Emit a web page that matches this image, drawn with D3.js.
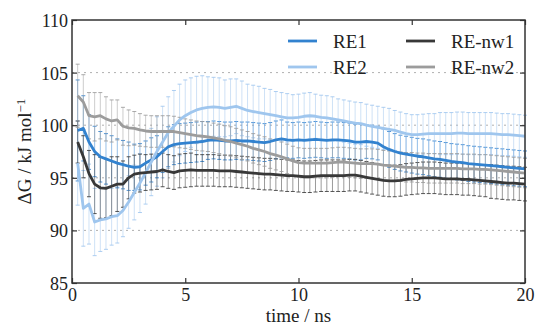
<!DOCTYPE html>
<html>
<head>
<meta charset="utf-8">
<script src="https://cdn.jsdelivr.net/npm/d3@7"></script>
<style>
  body { margin: 0; background: #fff; }
</style>
</head>
<body>
<div id="chart"></div>
<script>
// time axis (ns), one point every 0.25 ns
const times = [
  0.25, 0.5, 0.75, 1, 1.25, 1.5, 1.75, 2, 2.25, 2.5,
  2.75, 3, 3.25, 3.5, 3.75, 4, 4.25, 4.5, 4.75, 5,
  5.25, 5.5, 5.75, 6, 6.25, 6.5, 6.75, 7, 7.25, 7.5,
  7.75, 8, 8.25, 8.5, 8.75, 9, 9.25, 9.5, 9.75, 10,
  10.25, 10.5, 10.75, 11, 11.25, 11.5, 11.75, 12, 12.25, 12.5,
  12.75, 13, 13.25, 13.5, 13.75, 14, 14.25, 14.5, 14.75, 15,
  15.25, 15.5, 15.75, 16, 16.25, 16.5, 16.75, 17, 17.25, 17.5,
  17.75, 18, 18.25, 18.5, 18.75, 19, 19.25, 19.5, 19.75, 20
];

const re1 = [
  99.5, 99.7, 98.4, 97.5, 97.0, 96.8, 96.6, 96.4, 96.25, 96.1,
  96.0, 96.05, 96.4, 96.7, 97.0, 97.5, 97.95, 98.15, 98.25, 98.3,
  98.35, 98.4, 98.45, 98.55, 98.6, 98.55, 98.5, 98.5, 98.55, 98.5,
  98.5, 98.45, 98.4, 98.35, 98.45, 98.6, 98.7, 98.6, 98.55, 98.6,
  98.55, 98.6, 98.65, 98.6, 98.55, 98.6, 98.6, 98.55, 98.5, 98.4,
  98.4, 98.45, 98.4, 98.3, 97.95, 97.7, 97.5, 97.35, 97.25, 97.15,
  97.05, 97.0, 96.9, 96.8, 96.75, 96.65, 96.55, 96.5, 96.45, 96.35,
  96.3, 96.25, 96.2, 96.15, 96.1, 96.05, 96.0, 95.95, 95.9, 95.85
];
const re1Err = [
  4.8, 3.1, 2.6, 2.4, 2.4, 2.4, 2.4, 2.3, 2.3, 2.3,
  2.2, 2.2, 2.1, 2.1, 2.0, 2.0, 1.9, 1.9, 1.9, 1.9,
  1.9, 1.9, 1.9, 1.8, 1.8, 1.8, 1.8, 1.8, 1.8, 1.8,
  1.8, 1.8, 1.8, 1.8, 1.8, 1.8, 1.8, 1.7, 1.7, 1.7,
  1.7, 1.7, 1.7, 1.7, 1.7, 1.7, 1.7, 1.7, 1.7, 1.7,
  1.7, 1.6, 1.6, 1.6, 1.7, 1.7, 1.7, 1.7, 1.7, 1.7,
  1.7, 1.7, 1.7, 1.7, 1.7, 1.7, 1.7, 1.7, 1.7, 1.7,
  1.7, 1.7, 1.7, 1.7, 1.7, 1.7, 1.7, 1.7, 1.7, 1.7
];

const re2 = [
  96.4, 92.1, 92.5, 90.8, 91.0, 91.1, 91.3, 91.4, 91.9, 92.7,
  93.6, 94.5, 95.5, 96.5, 97.5, 98.4, 99.3, 99.9, 100.5, 100.9,
  101.2, 101.45, 101.6, 101.7, 101.75, 101.7, 101.6, 101.7, 101.8, 101.6,
  101.4, 101.3, 101.2, 101.1, 101.0, 100.9, 100.8, 100.7, 100.7, 100.75,
  100.85, 100.9, 100.85, 100.75, 100.7, 100.6, 100.5, 100.4, 100.3, 100.2,
  100.15, 100.0, 99.9, 99.8, 99.7, 99.6, 99.5, 99.35, 99.2, 99.1,
  99.1, 99.15, 99.2, 99.2, 99.2, 99.2, 99.2, 99.25, 99.25, 99.2,
  99.2, 99.2, 99.2, 99.2, 99.15, 99.1, 99.1, 99.05, 99.0, 98.95
];
const re2Err = [
  4.0, 3.6, 3.8, 3.2, 3.0, 2.9, 2.7, 2.6, 2.5, 2.5,
  2.6, 2.8, 3.0, 3.2, 3.3, 3.4, 3.4, 3.4, 3.4, 3.4,
  3.3, 3.2, 3.1, 2.9, 2.8, 2.8, 2.7, 2.7, 2.6, 2.6,
  2.5, 2.5, 2.5, 2.4, 2.4, 2.3, 2.3, 2.3, 2.2, 2.2,
  2.2, 2.2, 2.1, 2.1, 2.1, 2.1, 2.0, 2.0, 2.0, 2.0,
  2.0, 2.0, 2.0, 2.0, 2.0, 2.0, 1.9, 1.9, 1.9, 1.9,
  1.9, 1.9, 1.9, 1.9, 2.0, 2.0, 2.0, 2.0, 2.0, 2.0,
  2.0, 2.0, 2.0, 2.0, 2.0, 2.0, 2.0, 2.0, 2.0, 2.0
];

const nw1 = [
  98.4, 97.0, 95.4, 94.4, 94.05, 94.0, 94.2, 94.4, 94.4, 95.0,
  95.35, 95.45, 95.5, 95.55, 95.6, 95.75, 95.6, 95.5, 95.65, 95.7,
  95.75, 95.7, 95.7, 95.7, 95.7, 95.65, 95.65, 95.65, 95.6, 95.55,
  95.5, 95.45, 95.4, 95.35, 95.35, 95.3, 95.25, 95.2, 95.2, 95.15,
  95.1, 95.1, 95.15, 95.2, 95.2, 95.2, 95.2, 95.2, 95.25, 95.25,
  95.15, 95.05, 94.95, 94.85, 94.75, 94.7, 94.7, 94.75, 94.85, 94.9,
  94.95, 95.0, 95.0, 95.0, 94.95, 94.9, 94.9, 94.9, 94.85, 94.85,
  94.8, 94.75, 94.7, 94.65, 94.6, 94.55, 94.5, 94.5, 94.45, 94.4
];
const nw1Err = [
  2.0, 2.0, 2.2, 2.8, 2.9, 2.8, 2.8, 2.6, 2.2, 2.0,
  1.8, 1.8, 1.7, 1.7, 1.7, 1.6, 1.6, 1.6, 1.6, 1.6,
  1.6, 1.5, 1.5, 1.5, 1.5, 1.5, 1.5, 1.5, 1.5, 1.5,
  1.5, 1.5, 1.5, 1.5, 1.5, 1.5, 1.5, 1.5, 1.5, 1.5,
  1.5, 1.5, 1.5, 1.5, 1.5, 1.5, 1.5, 1.5, 1.5, 1.5,
  1.5, 1.5, 1.5, 1.5, 1.5, 1.5, 1.5, 1.5, 1.5, 1.5,
  1.5, 1.5, 1.5, 1.5, 1.5, 1.5, 1.5, 1.5, 1.5, 1.5,
  1.5, 1.5, 1.5, 1.6, 1.6, 1.6, 1.6, 1.6, 1.6, 1.6
];

const nw2 = [
  102.8, 102.2, 100.9, 100.8, 100.9, 100.6, 100.4, 100.5, 99.9, 99.75,
  99.7, 99.55, 99.45, 99.4, 99.4, 99.4, 99.4, 99.4, 99.3, 99.2,
  99.1, 99.0, 98.95, 98.9, 98.8, 98.7, 98.55, 98.45, 98.3, 98.15,
  98.0, 97.8, 97.65, 97.5, 97.3, 97.15, 97.0, 96.8, 96.6, 96.45,
  96.4, 96.4, 96.4, 96.4, 96.4, 96.45, 96.5, 96.5, 96.45, 96.4,
  96.35, 96.35, 96.35, 96.3, 96.2, 96.15, 96.1, 96.05, 96.0, 96.0,
  95.95, 95.95, 95.9, 95.9, 95.9, 95.9, 95.9, 95.9, 95.85, 95.85,
  95.85, 95.8, 95.8, 95.75, 95.7, 95.65, 95.6, 95.55, 95.5, 95.45
];
const nw2Err = [
  3.0, 2.6, 2.2, 2.3, 2.2, 2.1, 2.0, 1.9, 1.8, 1.7,
  1.6, 1.55, 1.5, 1.5, 1.5, 1.5, 1.5, 1.45, 1.45, 1.4,
  1.4, 1.4, 1.4, 1.4, 1.4, 1.4, 1.4, 1.4, 1.4, 1.4,
  1.4, 1.4, 1.4, 1.4, 1.4, 1.4, 1.4, 1.4, 1.4, 1.4,
  1.4, 1.4, 1.4, 1.4, 1.4, 1.4, 1.4, 1.4, 1.4, 1.4,
  1.4, 1.4, 1.4, 1.4, 1.4, 1.4, 1.4, 1.4, 1.4, 1.4,
  1.4, 1.4, 1.4, 1.4, 1.4, 1.4, 1.4, 1.4, 1.4, 1.4,
  1.4, 1.4, 1.4, 1.4, 1.4, 1.4, 1.4, 1.4, 1.4, 1.4
];

const xTicks = [0, 5, 10, 15, 20];
const yTicks = [85, 90, 95, 100, 105, 110];

const series = [
  { name: "RE1", values: re1, err: re1Err, color: "#3282cf" },
  { name: "RE2", values: re2, err: re2Err, color: "#9fc6ee" },
  { name: "RE-nw1", values: nw1, err: nw1Err, color: "#383838" },
  { name: "RE-nw2", values: nw2, err: nw2Err, color: "#9c9c9c" }
];

const FONT = "'Liberation Serif', 'Times New Roman', Times, 'DejaVu Serif', serif";

const W = 535, H = 326;
const margin = { top: 20, right: 10, bottom: 43, left: 72 };

const svg = d3.select("#chart").append("svg")
  .attr("width", W)
  .attr("height", H);

const x = d3.scaleLinear().domain([0, 20]).range([margin.left, W - margin.right]);
const y = d3.scaleLinear().domain([85, 110]).range([H - margin.bottom, margin.top]);

// dotted grid at inner y ticks
svg.append("g")
  .selectAll("line")
  .data(yTicks.filter(v => v > 85 && v < 110))
  .join("line")
  .attr("x1", x(0)).attr("x2", x(20))
  .attr("y1", d => y(d)).attr("y2", d => y(d))
  .attr("stroke", "#9a9a9a")
  .attr("stroke-width", 0.8)
  .attr("stroke-dasharray", "2,4");

const plot = svg.append("g");

// error bars first, lines on top
series.forEach(s => {
  const g = plot.append("g");
  const pts = times.map((t, i) => ({ t: t, v: s.values[i], e: s.err[i] }));
  g.selectAll("line.bar")
    .data(pts)
    .join("line")
    .attr("class", "bar")
    .attr("x1", d => x(d.t)).attr("x2", d => x(d.t))
    .attr("y1", d => y(d.v - d.e)).attr("y2", d => y(d.v + d.e))
    .attr("stroke", s.color)
    .attr("stroke-opacity", 0.5)
    .attr("stroke-width", 1);
  ["lo", "hi"].forEach(side => {
    g.selectAll("line.cap" + side)
      .data(pts)
      .join("line")
      .attr("class", "cap" + side)
      .attr("x1", d => x(d.t) - 2).attr("x2", d => x(d.t) + 2)
      .attr("y1", d => y(side == "lo" ? d.v - d.e : d.v + d.e))
      .attr("y2", d => y(side == "lo" ? d.v - d.e : d.v + d.e))
      .attr("stroke", s.color)
      .attr("stroke-opacity", 0.85)
      .attr("stroke-width", 1);
  });
});

const line = d3.line()
  .x((d, i) => x(times[i]))
  .y(d => y(d));

series.forEach(s => {
  plot.append("path")
    .datum(s.values)
    .attr("d", line)
    .attr("fill", "none")
    .attr("stroke", s.color)
    .attr("stroke-width", 2.8)
    .attr("stroke-linejoin", "round");
});

// axes with inward ticks on all four sides
const axisStyle = g => {
  g.attr("font-family", FONT);
  g.select(".domain").remove();
  g.selectAll(".tick line").attr("stroke", "#333").attr("stroke-width", 1.2);
  g.selectAll(".tick text")
    .attr("font-family", FONT)
    .attr("font-size", 18)
    .attr("fill", "#222");
};

svg.append("g")
  .attr("transform", `translate(0,${y(85)})`)
  .call(d3.axisBottom(x).tickValues(xTicks).tickSize(-5).tickPadding(5))
  .call(axisStyle);

svg.append("g")
  .attr("transform", `translate(${x(0)},0)`)
  .call(d3.axisLeft(y).tickValues(yTicks).tickSize(-5).tickPadding(4))
  .call(axisStyle)
  .call(g => g.selectAll(".tick text").attr("dy", "0.36em"));

svg.append("g")
  .attr("transform", `translate(0,${y(110)})`)
  .call(d3.axisTop(x).tickValues(xTicks).tickSize(-5).tickFormat(""))
  .call(axisStyle);

svg.append("g")
  .attr("transform", `translate(${x(20)},0)`)
  .call(d3.axisRight(y).tickValues(yTicks).tickSize(-5).tickFormat(""))
  .call(axisStyle);

// frame
svg.append("rect")
  .attr("x", x(0)).attr("y", y(110))
  .attr("width", x(20) - x(0))
  .attr("height", y(85) - y(110))
  .attr("fill", "none")
  .attr("stroke", "#333")
  .attr("stroke-width", 1.5);

// axis labels
svg.append("text")
  .attr("x", (x(0) + x(20)) / 2)
  .attr("y", 322)
  .attr("text-anchor", "middle")
  .attr("font-family", FONT)
  .attr("font-size", 19)
  .attr("fill", "#222")
  .text("time / ns");

const yl = svg.append("text")
  .attr("transform", `translate(31,${(y(85) + y(110)) / 2}) rotate(-90)`)
  .attr("text-anchor", "middle")
  .attr("font-family", FONT)
  .attr("font-size", 19)
  .attr("fill", "#222");
yl.append("tspan").text("ΔG / kJ mol");
yl.append("tspan").attr("dy", "-0.45em").attr("font-size", 13).text("−1");

// legend
const legendPos = [
  { s: series[0], lx: 288, ly: 41 },
  { s: series[1], lx: 288, ly: 67 },
  { s: series[2], lx: 406, ly: 41 },
  { s: series[3], lx: 406, ly: 67 }
];
const leg = svg.append("g");
legendPos.forEach(p => {
  leg.append("line")
    .attr("x1", p.lx).attr("x2", p.lx + 29)
    .attr("y1", p.ly).attr("y2", p.ly)
    .attr("stroke", p.s.color)
    .attr("stroke-width", 2.8);
  leg.append("text")
    .attr("x", p.lx + 45)
    .attr("y", p.ly)
    .attr("dy", "0.35em")
    .attr("font-family", FONT)
    .attr("font-size", 19)
    .attr("fill", "#222")
    .text(p.s.name);
});
</script>
</body>
</html>
